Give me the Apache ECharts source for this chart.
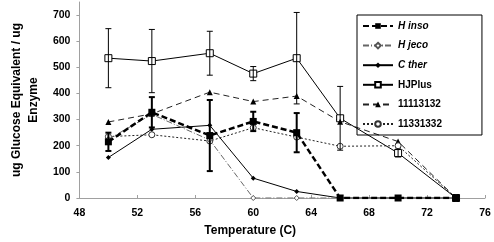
<!DOCTYPE html>
<html><head><meta charset="utf-8">
<script src="https://cdn.jsdelivr.net/npm/echarts@6/dist/echarts.min.js"></script>
<style>html,body{margin:0;padding:0;background:#fff}#c{width:494px;height:242px}</style>
</head><body><div id="c"></div>
<script>
const temps = [50, 53, 57, 60, 63, 66, 70, 74];
const hInso = [215, 328, 239, 293, 250, 0, 0, 0];
const hInsoErr = [35, 58, 136, 37, 75, 0, 0, 0];
const hJeco = [225, 320, 222, 0, 0, 0, 0, 0];
const cTher = [155, 263, 278, 76, 25, 0, 0, 0];
const hjPlus = [535, 524, 554, 476, 535, 305, 172, 0];
const hjPlusErr = [113, 121, 84, 27, 175, 122, 15, 0];
const s11113132 = [291, 322, 405, 369, 390, 292, 216, 0];
const s11331332 = [235, 242, 218, 269, 233, 198, 200, 0];
const seriesNames = ['H inso', 'H jeco', 'C ther', 'HJPlus', '11113132', '11331332'];
const yTicks = [0, 100, 200, 300, 400, 500, 600, 700];
const xTicks = [48, 52, 56, 60, 64, 68, 72, 76];

const FONT = 'Liberation Sans, Arial, sans-serif';
const pairs = arr => temps.map((t, i) => [t, arr[i]]);
const errData = (vals, errs) => temps.map((t, i) => [t, vals[i] - errs[i], vals[i] + errs[i], errs[i]]);

function errSeries(name, vals, errs, width) {
  return {
    type: 'custom', name: name + ' err', z: 5,
    data: errData(vals, errs),
    encode: { x: 0, y: [1, 2] },
    renderItem: function (params, api) {
      if (api.value(3) === 0) return null;
      const lo = api.coord([api.value(0), api.value(1)]);
      const hi = api.coord([api.value(0), api.value(2)]);
      const cw = 3;
      const st = { stroke: '#000', lineWidth: width };
      return { type: 'group', children: [
        { type: 'line', shape: { x1: lo[0], y1: lo[1], x2: hi[0], y2: hi[1] }, style: st },
        { type: 'line', shape: { x1: lo[0] - cw, y1: lo[1], x2: lo[0] + cw, y2: lo[1] }, style: st },
        { type: 'line', shape: { x1: hi[0] - cw, y1: hi[1], x2: hi[0] + cw, y2: hi[1] }, style: st }
      ]};
    }
  };
}

const chart = echarts.init(document.getElementById('c'), null, { renderer: 'canvas' });
chart.setOption({
  animation: false,
  backgroundColor: '#fff',
  textStyle: { fontFamily: FONT },
  grid: { left: 60, right: 9, top: 2, bottom: 39 },
  legend: {
    data: seriesNames,
    orient: 'vertical', left: 357, top: 15,
    itemWidth: 30, itemHeight: 7, itemGap: 9.6,
    padding: [6, 40, 6, 5],
    borderColor: '#000', borderWidth: 1,
    textStyle: { fontFamily: FONT, fontSize: 10, fontWeight: 'bold', color: '#000',
      rich: { i: { fontFamily: FONT, fontSize: 10, fontWeight: 'bold', fontStyle: 'italic', color: '#000' } } },
    formatter: n => (n === 'H inso' || n === 'H jeco' || n === 'C ther') ? '{i|' + n + '}' : n
  },
  xAxis: {
    type: 'value', min: 48, max: 76, interval: 4,
    name: 'Temperature (C)', nameLocation: 'middle', nameGap: 27,
    nameTextStyle: { fontFamily: FONT, fontSize: 12, fontWeight: 'bold', color: '#000', padding: [0, 64, 0, 0] },
    axisLine: { lineStyle: { color: '#a0a0a0' } },
    axisTick: { inside: true, length: 3, lineStyle: { color: '#a0a0a0' } },
    axisLabel: { margin: 10, fontFamily: FONT, fontSize: 10.5, fontWeight: 'bold', color: '#000', customValues: xTicks },
    splitLine: { show: false }
  },
  yAxis: {
    type: 'value', min: 0, max: 750, interval: 100,
    name: 'ug Glucose Equivalent / ug\nEnzyme', nameLocation: 'middle', nameGap: 36, nameRotate: 90,
    nameTextStyle: { fontFamily: FONT, fontSize: 12, fontWeight: 'bold', color: '#000', lineHeight: 17, align: 'center' },
    axisLine: { show: true, lineStyle: { color: '#a0a0a0' } },
    axisTick: { show: true, length: 3, lineStyle: { color: '#a0a0a0' }, customValues: yTicks },
    axisLabel: { margin: 9, fontFamily: FONT, fontSize: 10.5, fontWeight: 'bold', color: '#000',
      customValues: yTicks, formatter: v => (v > 700 ? '' : String(v)) },
    splitLine: { show: false }
  },
  series: [
    { type: 'line', name: 'HJPlus', data: pairs(hjPlus), symbol: 'rect', symbolSize: 7, z: 3,
      lineStyle: { color: '#000', width: 1 }, itemStyle: { color: '#fff', borderColor: '#000', borderWidth: 1 } },
    { type: 'line', name: '11113132', data: pairs(s11113132), symbol: 'triangle', symbolSize: 6, z: 3,
      lineStyle: { color: '#222', width: 1, type: [6, 4] }, itemStyle: { color: '#000' } },
    { type: 'line', name: '11331332', data: pairs(s11331332), symbol: 'circle', symbolSize: 6, z: 3,
      lineStyle: { color: '#222', width: 1, type: [2, 2] }, itemStyle: { color: '#fff', borderColor: '#333', borderWidth: 1 } },
    { type: 'line', name: 'C ther', data: pairs(cTher), symbol: 'diamond', symbolSize: 5, z: 3,
      lineStyle: { color: '#000', width: 1 }, itemStyle: { color: '#000' } },
    { type: 'line', name: 'H jeco', data: pairs(hJeco), symbol: 'diamond', symbolSize: 5, z: 3,
      lineStyle: { color: '#666', width: 1, type: [6, 2, 1, 2] }, itemStyle: { color: '#fff', borderColor: '#555', borderWidth: 1 } },
    { type: 'line', name: 'H inso', data: pairs(hInso), symbol: 'rect', symbolSize: 7, z: 4,
      lineStyle: { color: '#000', width: 2.5, type: [6, 3] }, itemStyle: { color: '#000' } },
    errSeries('HJPlus', hjPlus, hjPlusErr, 1),
    errSeries('H inso', hInso, hInsoErr, 2)
  ]
});
</script>
</body></html>
